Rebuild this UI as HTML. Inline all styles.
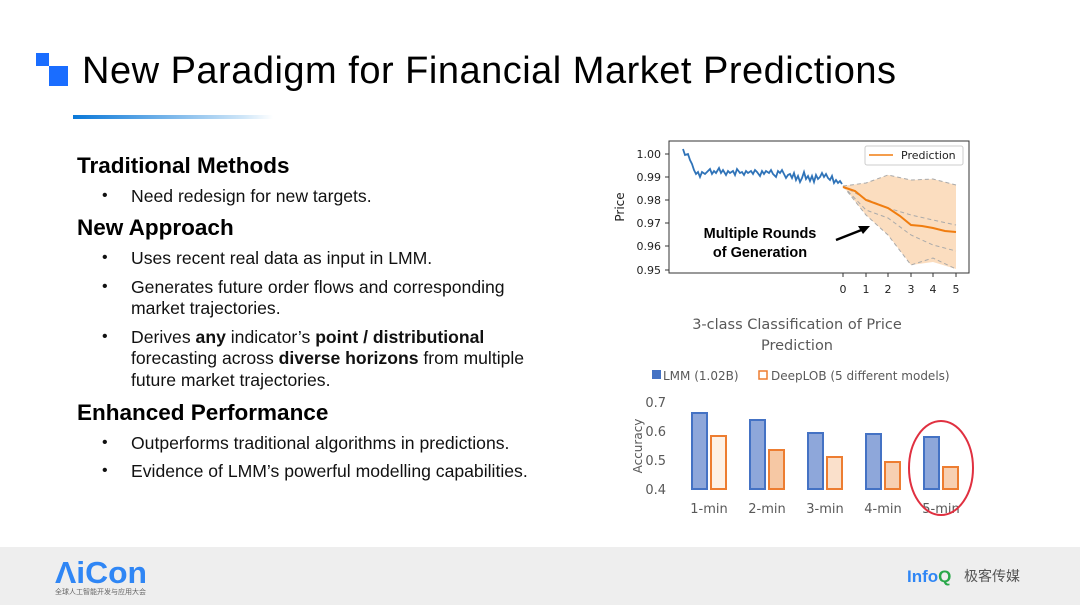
<!DOCTYPE html>
<html><head><meta charset="utf-8"><style>
body{margin:0;width:1080px;height:605px;position:relative;background:#fff;font-family:"Liberation Sans",sans-serif;overflow:hidden}
.a{position:absolute;white-space:nowrap;line-height:1}
.h{font-weight:bold;font-size:22.5px;color:#000;left:77px}
.b{font-size:17.6px;color:#111;left:131px}
.d{font-size:16px;left:102px;color:#111}
</style></head><body>
<div class="a" style="left:36px;top:53px;width:13px;height:13px;background:#1a6dff"></div>
<div class="a" style="left:49px;top:66px;width:19px;height:20px;background:#1a6dff"></div>
<div class="a" style="left:82px;top:52px;font-size:38px;color:#000;letter-spacing:0.5px">New Paradigm for Financial Market Predictions</div>
<div class="a" style="left:73px;top:115px;width:200px;height:4px;background:linear-gradient(90deg,#0a78d8,#cfe6f8 85%,#fff)"></div>

<div class="a h" style="top:155px">Traditional Methods</div>
<div class="a d" style="top:188px">•</div><div class="a b" style="top:188px">Need redesign for new targets.</div>
<div class="a h" style="top:217px">New Approach</div>
<div class="a d" style="top:250px">•</div><div class="a b" style="top:250px">Uses recent real data as input in LMM.</div>
<div class="a d" style="top:279px">•</div><div class="a b" style="top:279px">Generates future order flows and corresponding</div>
<div class="a b" style="top:300px">market trajectories.</div>
<div class="a d" style="top:329px">•</div><div class="a b" style="top:329px">Derives <b>any</b> indicator’s <b>point / distributional</b></div>
<div class="a b" style="top:350px">forecasting across <b>diverse horizons</b> from multiple</div>
<div class="a b" style="top:372px">future market trajectories.</div>
<div class="a h" style="top:402px">Enhanced Performance</div>
<div class="a d" style="top:435px">•</div><div class="a b" style="top:435px">Outperforms traditional algorithms in predictions.</div>
<div class="a d" style="top:463px">•</div><div class="a b" style="top:463px">Evidence of LMM’s powerful modelling capabilities.</div>

<svg class="a" style="left:0;top:0" width="1080" height="605" font-family="DejaVu Sans, sans-serif">
<polygon points="843,186 866,183 888,175 911,180 933,179 956,185 956,269 933,262 911,265 888,235 866,215 843,186" fill="#fbd9b8" opacity="0.9"/>
<g fill="none" stroke="#aaa" stroke-width="1" stroke-dasharray="4,3">
<polyline points="843,186 866,183 888,175 911,180 933,179 956,185"/>
<polyline points="843,186 866,199 888,208 911,215 933,220 956,225"/>
<polyline points="843,186 866,210 888,218 911,235 933,245 956,251"/>
<polyline points="843,186 866,215 888,235 911,265 933,258 956,269"/>
</g>
<polyline fill="none" stroke="#f07d10" stroke-width="2" points="843,187 855,191 866,200 888,208 900,216 911,225 922,226 933,228 945,231 956,232"/>
<polyline fill="none" stroke="#2f73b8" stroke-width="1.8" points="683,149 685,155 688,154 690,160 692,164 694,170 696,174 698,172 700,177 702,172 705,174 708,171 710,169 712,174 714,171 716,173 719,168 721,173 723,170 726,175 728,171 730,173 733,171 735,175 737,169 740,173 742,172 744,175 746,171 748,173 751,171 753,174 755,170 757,172 760,176 762,171 764,174 766,171 769,173 771,170 773,174 776,177 778,171 780,173 782,170 784,174 786,178 788,175 790,174 792,178 794,173 796,180 798,176 800,182 802,178 804,172 806,179 808,176 810,181 812,176 814,182 816,175 818,179 820,177 822,173 824,177 826,174 828,178 830,180 832,176 834,183 836,180 838,183 840,181 842,184"/>
<rect x="669" y="141" width="300" height="132" fill="none" stroke="#333" stroke-width="1"/>
<rect x="865" y="146" width="98" height="19" fill="#fff" stroke="#ccc" rx="2"/>
<line x1="869" y1="155" x2="893" y2="155" stroke="#f07d10" stroke-width="1.5"/>
<text x="901" y="159" font-size="11" fill="#222">Prediction</text>
<g font-size="11" fill="#222" text-anchor="end">
<text x="661" y="158">1.00</text><text x="661" y="181">0.99</text><text x="661" y="204">0.98</text><text x="661" y="227">0.97</text><text x="661" y="250">0.96</text><text x="661" y="274">0.95</text>
</g>
<g stroke="#333"><line x1="665" y1="154" x2="669" y2="154"/><line x1="665" y1="177" x2="669" y2="177"/><line x1="665" y1="200" x2="669" y2="200"/><line x1="665" y1="223" x2="669" y2="223"/><line x1="665" y1="246" x2="669" y2="246"/><line x1="665" y1="270" x2="669" y2="270"/>
<line x1="843" y1="273" x2="843" y2="277"/><line x1="866" y1="273" x2="866" y2="277"/><line x1="888" y1="273" x2="888" y2="277"/><line x1="911" y1="273" x2="911" y2="277"/><line x1="933" y1="273" x2="933" y2="277"/><line x1="956" y1="273" x2="956" y2="277"/></g>
<g font-size="11" fill="#222" text-anchor="middle"><text x="843" y="293">0</text><text x="866" y="293">1</text><text x="888" y="293">2</text><text x="911" y="293">3</text><text x="933" y="293">4</text><text x="956" y="293">5</text></g>
<text transform="translate(624,207) rotate(-90)" font-size="12" fill="#222" text-anchor="middle">Price</text>
<g font-family="Liberation Sans, sans-serif" font-weight="bold" font-size="14.5" fill="#000" text-anchor="middle"><text x="760" y="238">Multiple Rounds</text><text x="760" y="257">of Generation</text></g>
<line x1="836" y1="240" x2="864" y2="229" stroke="#000" stroke-width="2.5"/><polygon points="870,226 858,226 863,234" fill="#000"/>
<g font-size="14.5" fill="#595959" text-anchor="middle"><text x="797" y="329">3-class Classification of Price</text><text x="797" y="350">Prediction</text></g>
<rect x="652" y="370" width="9" height="9" fill="#4472c4"/><text x="663" y="380" font-size="12" fill="#595959">LMM (1.02B)</text>
<rect x="759" y="371" width="8" height="8" fill="#fff" stroke="#ed7d31" stroke-width="1.5"/><text x="771" y="380" font-size="12" fill="#595959">DeepLOB (5 different models)</text>
<g font-size="13" fill="#595959" text-anchor="end"><text x="666" y="407">0.7</text><text x="666" y="436">0.6</text><text x="666" y="465">0.5</text><text x="666" y="494">0.4</text></g>
<text transform="translate(642,446) rotate(-90)" font-size="12" fill="#595959" text-anchor="middle">Accuracy</text>
<g stroke-width="2">
<rect x="692" y="413" width="15" height="76" fill="#8ea7da" stroke="#4472c4"/><rect x="711" y="436" width="15" height="53" fill="#fdf1e6" stroke="#ed7d31"/>
<rect x="750" y="420" width="15" height="69" fill="#8ea7da" stroke="#4472c4"/><rect x="769" y="450" width="15" height="39" fill="#f6c8a4" stroke="#ed7d31"/>
<rect x="808" y="433" width="15" height="56" fill="#8ea7da" stroke="#4472c4"/><rect x="827" y="457" width="15" height="32" fill="#fae0cb" stroke="#ed7d31"/>
<rect x="866" y="434" width="15" height="55" fill="#8ea7da" stroke="#4472c4"/><rect x="885" y="462" width="15" height="27" fill="#f7d0b2" stroke="#ed7d31"/>
<rect x="924" y="437" width="15" height="52" fill="#8ea7da" stroke="#4472c4"/><rect x="943" y="467" width="15" height="22" fill="#f7d0b2" stroke="#ed7d31"/>
</g>
<g font-size="13" fill="#595959" text-anchor="middle"><text x="709" y="513">1-min</text><text x="767" y="513">2-min</text><text x="825" y="513">3-min</text><text x="883" y="513">4-min</text><text x="941" y="513">5-min</text></g>
<ellipse cx="941" cy="468" rx="32" ry="47" fill="none" stroke="#e03040" stroke-width="2"/>
<rect x="0" y="547" width="1080" height="58" fill="#eeeeee"/>
<text x="55" y="583" font-family="Liberation Sans, sans-serif" font-weight="bold" font-size="31" fill="#2f86f5" textLength="92" lengthAdjust="spacingAndGlyphs">ΛiCon</text>
<text x="55" y="594" font-family="Noto Sans CJK SC, sans-serif" font-size="7" fill="#666">全球人工智能开发与应用大会</text>
<text x="907" y="582" font-family="Liberation Sans, sans-serif" font-weight="bold" font-size="17" fill="#2f86f5">Info<tspan fill="#2aa84a">Q</tspan></text>
<text x="964" y="581" font-family="Noto Sans CJK SC, sans-serif" font-size="14" fill="#555">极客传媒</text>
</svg>
</body></html>
